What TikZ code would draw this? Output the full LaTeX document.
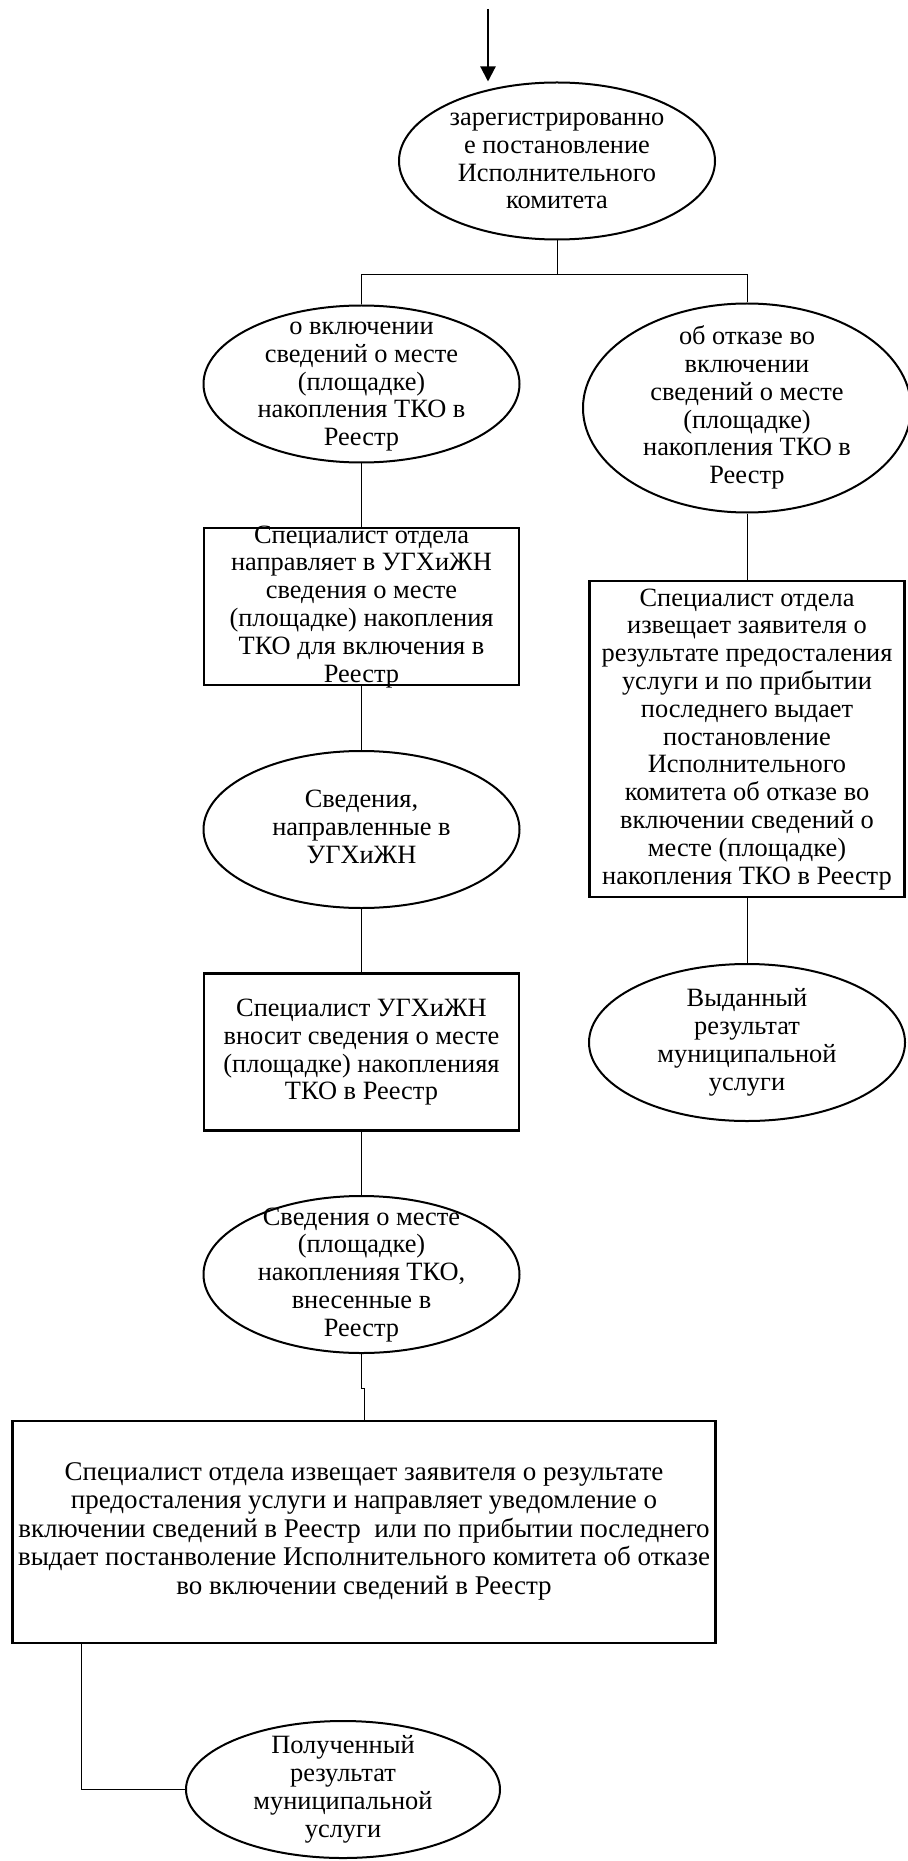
\documentclass[tikz,border=0pt]{standalone}
\usepackage{fontspec}
\setmainfont{Liberation Serif}
\usetikzlibrary{shapes.geometric,arrows.meta}

\newcommand{\flowtext}[1]{\smash{\raisebox{-0.25em}{\begin{tabular}{@{}c@{}}#1\end{tabular}}}}

\begin{document}
\begin{tikzpicture}[x=0.5pt,y=-0.5pt,
	oval/.style={draw,ellipse,line width=1pt,inner sep=0pt,minimum width=158pt,minimum height=78.5pt,font=\fontsize{13.2}{13.9}\selectfont},
	stepbox/.style={draw,rectangle,line width=1.2pt,inner sep=0pt,minimum width=157.5pt,minimum height=78.5pt,font=\fontsize{13.2}{13.9}\selectfont},
	link/.style={line width=0.5pt}]

	\useasboundingbox (0,0) rectangle (907,1861);

	% left branch
	\node[oval] (top) at (557,161) {\flowtext{зарегистрированно\\е постановление\\Исполнительного\\комитета}};
	\node[oval] (incl) at (361.5,384) {\flowtext{о включении\\сведений о месте\\(площадке)\\накопления ТКО в\\Реестр}};
	\node[stepbox] (send) at (361.5,606.5) {\flowtext{Специалист отдела\\направляет в УГХиЖН\\сведения о месте\\(площадке) накопления\\ТКО для включения в\\Реестр}};
	\node[oval] (sent) at (361.5,829.5) {\flowtext{Сведения,\\направленные в\\УГХиЖН}};
	\node[stepbox] (enter) at (361.5,1052) {\flowtext{Специалист УГХиЖН\\вносит сведения о месте\\(площадке) накопленияя\\ТКО в Реестр}};
	\node[oval] (entered) at (361.5,1274.5) {\flowtext{Сведения о месте\\(площадке)\\накопленияя ТКО,\\внесенные в\\Реестр}};

	% right branch
	\node[oval,minimum width=164pt,minimum height=104.5pt] (refuse) at (747,408) {\flowtext{об отказе во\\включении\\сведений о месте\\(площадке)\\накопления ТКО в\\Реестр}};
	\node[stepbox,minimum height=158pt] (notify) at (747,739) {\flowtext{Специалист отдела\\извещает заявителя о\\результате предосталения\\услуги и по прибытии\\последнего выдает\\постановление\\Исполнительного\\комитета об отказе во\\включении сведений о\\месте (площадке)\\накопления ТКО в Реестр}};
	\node[oval] (issued) at (747,1042.5) {\flowtext{Выданный\\результат\\муниципальной\\услуги}};

	% bottom
	\node[stepbox,minimum width=351.5pt,minimum height=111pt,font=\fontsize{13.5}{14.2}\selectfont] (final) at (364,1532) {\flowtext{Специалист отдела извещает заявителя о результате\\предосталения услуги и направляет уведомление о\\включении сведений в Реестр\ \ или по прибытии последнего\\выдает постанволение Исполнительного комитета об отказе\\во включении сведений в Реестр}};
	\node[oval,minimum width=157pt,minimum height=68.5pt] (got) at (343,1789.5) {\flowtext{Полученный\\результат\\муниципальной\\услуги}};

	\coordinate (start) at (488,9);
	\draw[line width=1.1pt,-{Triangle[length=7.5pt,width=7.5pt]}] (start) -- (start |- top.north);

	\draw[link] (top.south) -- ++(0,34) coordinate (fork) -| (incl.north);
	\draw[link] (fork) -| (refuse.north);
	\draw[link] (incl) -- (send);
	\draw[link] (send) -- (sent);
	\draw[link] (sent) -- (enter);
	\draw[link] (enter) -- (entered);
	\draw[link] (entered.south) -- ++(0,34) -| (final.north);
	\draw[link] (refuse) -- (notify);
	\draw[link] (notify) -- (issued);
	\draw[link] (final.south west) ++(70,0) |- (got.west);

\end{tikzpicture}
\end{document}
